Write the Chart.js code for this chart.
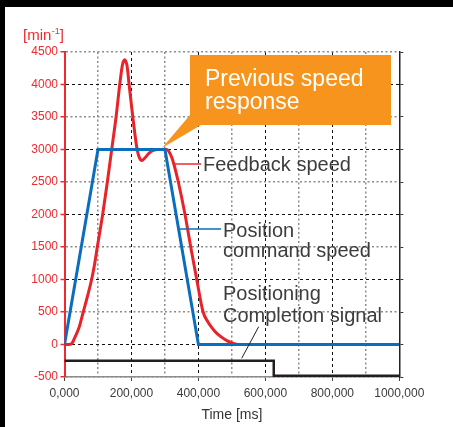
<!DOCTYPE html>
<html><head><meta charset="utf-8">
<script src="https://cdn.jsdelivr.net/npm/chart.js@4"></script>
<style>
html,body{margin:0;padding:0;background:#000;width:453px;height:427px;overflow:hidden}
#wrap{position:absolute;left:5px;top:7px;width:448px;height:420px;background:#fff}
canvas{display:block}
</style></head><body><div id="wrap"><canvas id="c"></canvas></div>
<script>
// ---- data ----
const xTickValues = [0, 200000, 400000, 600000, 800000, 1000000];
const xTickLabels = ['0,000', '200,000', '400,000', '600,000', '800,000', '1000,000'];
const yTickValues = [-500, 0, 500, 1000, 1500, 2000, 2500, 3000, 3500, 4000, 4500];
const yTickLabels = ['-500', '0', '500', '1000', '1500', '2000', '2500', '3000', '3500', '4000', '4500'];

const commandTime  = [0, 100000, 300000, 400000, 1000000];
const commandSpeed = [0, 3000, 3000, 0, 0];

const feedbackTime  = [0, 12000, 21000, 31000, 44000, 56000, 68000, 81000, 90000, 98000, 114000, 128000, 141000, 154000, 165000, 173000, 180000, 187000, 193000, 204000, 217000, 224000, 231000, 240000, 252000, 265000, 278000, 306000, 314000, 321000, 328000, 340000, 360000, 377000, 395000, 414000, 428000, 440000, 455000, 470000, 485000, 500000, 515000];
const feedbackSpeed = [0, 0, 10, 110, 270, 500, 730, 1000, 1240, 1500, 2000, 2500, 3000, 3500, 4000, 4300, 4380, 4280, 4000, 3500, 3000, 2870, 2830, 2870, 2940, 2985, 3000, 3000, 2950, 2870, 2750, 2500, 2000, 1500, 1000, 500, 350, 260, 170, 110, 60, 25, 0];

const signalTime  = [0, 625000, 625000, 1000000];
const signalLevel = [-250, -250, -480, -480];

// ---- helpers ----
const FONT = '"Liberation Sans", Arial, Helvetica, sans-serif';
const pts = (xs, ys) => xs.map((x, i) => ({x, y: ys[i]}));
const isMajorX = v => v % 200000 === 0;
const isMajorY = v => v % 1000 === 0;

const annotations = {
  id: 'annotations',
  afterDraw(chart) {
    const c = chart.ctx;
    c.save();
    // unit label
    c.fillStyle = '#EE2A2F';
    c.textBaseline = 'alphabetic';
    c.font = '15px ' + FONT;
    let x = 18, y = 33;
    c.fillText('[min', x, y); x += c.measureText('[min').width + 0.5;
    c.font = '9px ' + FONT;
    c.fillText('-1', x, y - 6); x += c.measureText('-1').width;
    c.font = '15px ' + FONT;
    c.fillText(']', x, y);

    // orange callout
    c.fillStyle = '#F7941D';
    c.fillRect(185, 48, 201, 70);
    c.beginPath();
    c.moveTo(185, 108); c.lineTo(196, 118); c.lineTo(157, 141); c.closePath(); c.fill();
    c.fillStyle = '#fff';
    c.font = '23px ' + FONT;
    c.fillText('Previous speed', 200, 79);
    c.fillText('response', 200, 102);

    // leader lines
    c.lineWidth = 1.5;
    c.strokeStyle = '#EE2A2F';
    c.beginPath(); c.moveTo(170, 157); c.lineTo(196, 157); c.stroke();
    c.strokeStyle = '#0A6EBD';
    c.beginPath(); c.moveTo(175, 222); c.lineTo(216, 222); c.stroke();
    c.lineWidth = 1;
    c.strokeStyle = '#231F20';
    c.beginPath(); c.moveTo(253.7, 319.7); c.lineTo(236.7, 351.3); c.stroke();

    // labels
    c.fillStyle = '#3d3d3d';
    c.font = '20px ' + FONT;
    c.fillText('Feedback speed', 198, 164);
    c.fillText('Position', 218, 230);
    c.fillText('command speed', 218, 250);
    c.fillText('Positioning', 218, 293);
    c.fillText('Completion signal', 218, 315);
    c.restore();
  }
};

new Chart(document.getElementById('c'), {
  type: 'line',
  data: {
    datasets: [
      {label: 'Position command speed', data: pts(commandTime, commandSpeed), borderColor: '#0A6EBD', borderWidth: 3, pointRadius: 0, tension: 0},
      {label: 'Feedback speed', data: pts(feedbackTime, feedbackSpeed), borderColor: '#E8232A', borderWidth: 3, pointRadius: 0, cubicInterpolationMode: 'monotone'},
      {label: 'Positioning completion signal', data: pts(signalTime, signalLevel), borderColor: '#231F20', borderWidth: 2.5, pointRadius: 0, tension: 0}
    ]
  },
  options: {
    responsive: true,
    maintainAspectRatio: false,
    animation: false,
    events: [],
    layout: {padding: {top: 45, left: 0, right: 0, bottom: 0}},
    plugins: {legend: {display: false}, tooltip: {enabled: false}},
    scales: {
      x: {
        type: 'linear', min: 0, max: 1000000,
        afterFit: s => { s.height = 50; },
        ticks: {
          stepSize: 100000, autoSkip: false, maxRotation: 0, padding: 5,
          color: '#3a3a3a', font: {family: FONT, size: 12},
          callback: v => { const i = xTickValues.indexOf(v); return i >= 0 ? xTickLabels[i] : ''; }
        },
        grid: {
          color: ctx => ctx.tick && isMajorX(ctx.tick.value) ? '#111' : '#8c8c8c',
          lineWidth: ctx => ctx.tick && isMajorX(ctx.tick.value) ? 1 : 1.5,
          tickColor: ctx => ctx.tick && isMajorX(ctx.tick.value) ? '#444' : 'rgba(0,0,0,0)',
          tickLength: 4, tickWidth: 1
        },
        border: {
          display: true, color: '#8c8c8c', width: 1.5,
          dash: ctx => ctx.tick ? (isMajorX(ctx.tick.value) ? [3, 3] : [2, 2.5]) : []
        },
        title: {display: true, text: 'Time [ms]', color: '#333', font: {family: FONT, size: 14}, padding: {top: 0, bottom: 3}}
      },
      y: {
        type: 'linear', position: 'left', min: -500, max: 4500,
        afterFit: s => { s.width = 59.5; },
        ticks: {
          stepSize: 500, autoSkip: false, padding: 2.5,
          color: '#EE2A2F', font: {family: FONT, size: 12},
          callback: v => { const i = yTickValues.indexOf(v); return i >= 0 ? yTickLabels[i] : ''; }
        },
        grid: {
          color: ctx => ctx.tick && isMajorY(ctx.tick.value) ? '#111' : '#8c8c8c',
          lineWidth: ctx => ctx.tick && isMajorY(ctx.tick.value) ? 1 : 1.5,
          tickColor: '#EE2A2F', tickLength: 4, tickWidth: 1.5
        },
        border: {
          display: true, color: '#EE2A2F', width: 2,
          dash: ctx => ctx.tick ? (isMajorY(ctx.tick.value) ? [3, 3] : [2, 2.5]) : []
        }
      },
      y2: {
        type: 'linear', position: 'right', min: -500, max: 4500,
        afterFit: s => { s.width = 53.7; },
        ticks: {stepSize: 500, display: false},
        grid: {drawOnChartArea: false, tickColor: '#333', tickLength: 4, tickWidth: 1},
        border: {display: true, color: '#222', width: 1.5}
      }
    }
  },
  plugins: [annotations]
});
</script></body></html>
